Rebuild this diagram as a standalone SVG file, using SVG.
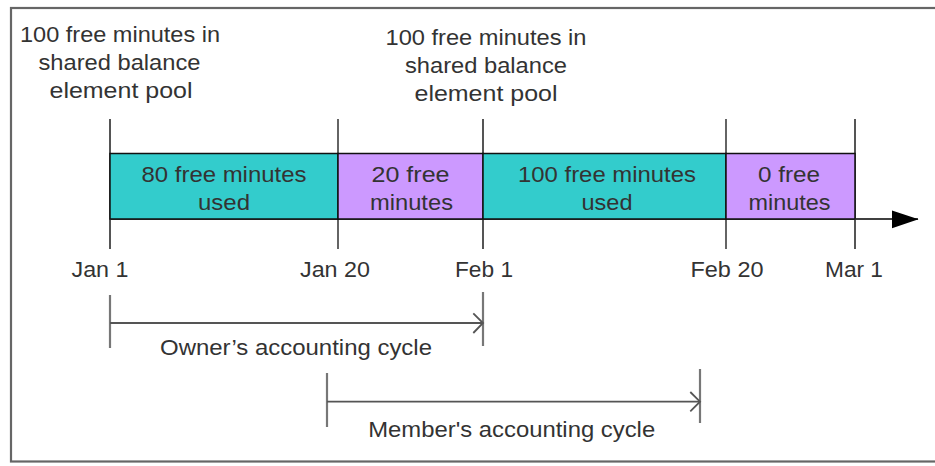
<svg xmlns="http://www.w3.org/2000/svg" width="935" height="466" viewBox="0 0 935 466">
<defs>
<style>
text{font-family:"Liberation Sans",Arial,sans-serif;font-size:22px;fill:#333;text-anchor:middle}
.teal{fill:#33CCCC;stroke:#111;stroke-width:1.5}
.purp{fill:#CC99FF;stroke:#111;stroke-width:1.5}
.tickg{stroke:#555;stroke-width:2}
.tickb{stroke:#111;stroke-width:1.3}
.cyc{stroke:#555;stroke-width:1.8;fill:none}
.cycbar{stroke:#777;stroke-width:2.2}
</style>
</defs>
<rect x="11" y="8" width="940" height="453.5" fill="#fff" stroke="#666" stroke-width="2.2"/>

<g id="connectors">
<line x1="110" y1="219" x2="918" y2="219" stroke="#000" stroke-width="1.5"/>
<path d="M892,210.5 L918.5,219.3 L892,228.3 z" fill="#000"/>
<line class="tickg" x1="110" y1="119" x2="110" y2="249"/>
<line class="tickb" x1="338" y1="119" x2="338" y2="249"/>
<line class="tickg" x1="483" y1="119" x2="483" y2="249"/>
<line class="tickb" x1="726" y1="119" x2="726" y2="249"/>
<line class="tickg" x1="855" y1="119" x2="855" y2="249"/>
</g>

<g id="seg1"><rect class="teal" x="110" y="153.5" width="228" height="65.5"/>
<text x="224" y="181.7" textLength="165" lengthAdjust="spacingAndGlyphs">80 free minutes</text>
<text x="224" y="209.7" textLength="52" lengthAdjust="spacingAndGlyphs">used</text></g>
<g id="seg2"><rect class="purp" x="338" y="153.5" width="145" height="65.5"/>
<text x="410.5" y="181.7" textLength="78" lengthAdjust="spacingAndGlyphs">20 free</text>
<text x="411.5" y="209.7" textLength="83" lengthAdjust="spacingAndGlyphs">minutes</text></g>
<g id="seg3"><rect class="teal" x="483" y="153.5" width="243" height="65.5"/>
<text x="607" y="181.7" textLength="178" lengthAdjust="spacingAndGlyphs">100 free minutes</text>
<text x="607" y="209.7" textLength="51" lengthAdjust="spacingAndGlyphs">used</text></g>
<g id="seg4"><rect class="purp" x="726" y="153.5" width="129" height="65.5"/>
<text x="789" y="181.7" textLength="62" lengthAdjust="spacingAndGlyphs">0 free</text>
<text x="789.5" y="209.7" textLength="82" lengthAdjust="spacingAndGlyphs">minutes</text></g>

<g id="pool1">
<text x="120" y="42.3" textLength="200" lengthAdjust="spacingAndGlyphs">100 free minutes in</text>
<text x="119.5" y="70" textLength="162" lengthAdjust="spacingAndGlyphs">shared balance</text>
<text x="121" y="97.7" textLength="143" lengthAdjust="spacingAndGlyphs">element pool</text>
</g>
<g id="pool2">
<text x="486" y="45" textLength="201" lengthAdjust="spacingAndGlyphs">100 free minutes in</text>
<text x="486" y="73" textLength="162" lengthAdjust="spacingAndGlyphs">shared balance</text>
<text x="486" y="101" textLength="143" lengthAdjust="spacingAndGlyphs">element pool</text>
</g>

<g id="dates">
<text x="100" y="276.5" textLength="57" lengthAdjust="spacingAndGlyphs">Jan 1</text>
<text x="335" y="276.5" textLength="70" lengthAdjust="spacingAndGlyphs">Jan 20</text>
<text x="484" y="276.5" textLength="58" lengthAdjust="spacingAndGlyphs">Feb 1</text>
<text x="727" y="276.5" textLength="73" lengthAdjust="spacingAndGlyphs">Feb 20</text>
<text x="854" y="276.5" textLength="58" lengthAdjust="spacingAndGlyphs">Mar 1</text>
</g>

<g id="owner">
<line class="cycbar" x1="110" y1="295" x2="110" y2="348"/>
<line class="cycbar" x1="483" y1="292" x2="483" y2="346"/>
<line class="cyc" x1="110" y1="323" x2="482" y2="323"/>
<path class="cyc" d="M473.3,313.3 L483,323 L473.3,333"/>
<text x="296" y="355" textLength="272" lengthAdjust="spacingAndGlyphs">Owner’s accounting cycle</text>
</g>

<g id="member">
<line class="cycbar" x1="327" y1="373" x2="327" y2="427"/>
<line class="cycbar" x1="700" y1="369" x2="700" y2="423"/>
<line class="cyc" x1="327" y1="401.7" x2="699" y2="401.7"/>
<path class="cyc" d="M690.3,392 L700,401.7 L690.3,411.4"/>
<text x="511.7" y="436.7" textLength="287" lengthAdjust="spacingAndGlyphs">Member's accounting cycle</text>
</g>
</svg>
